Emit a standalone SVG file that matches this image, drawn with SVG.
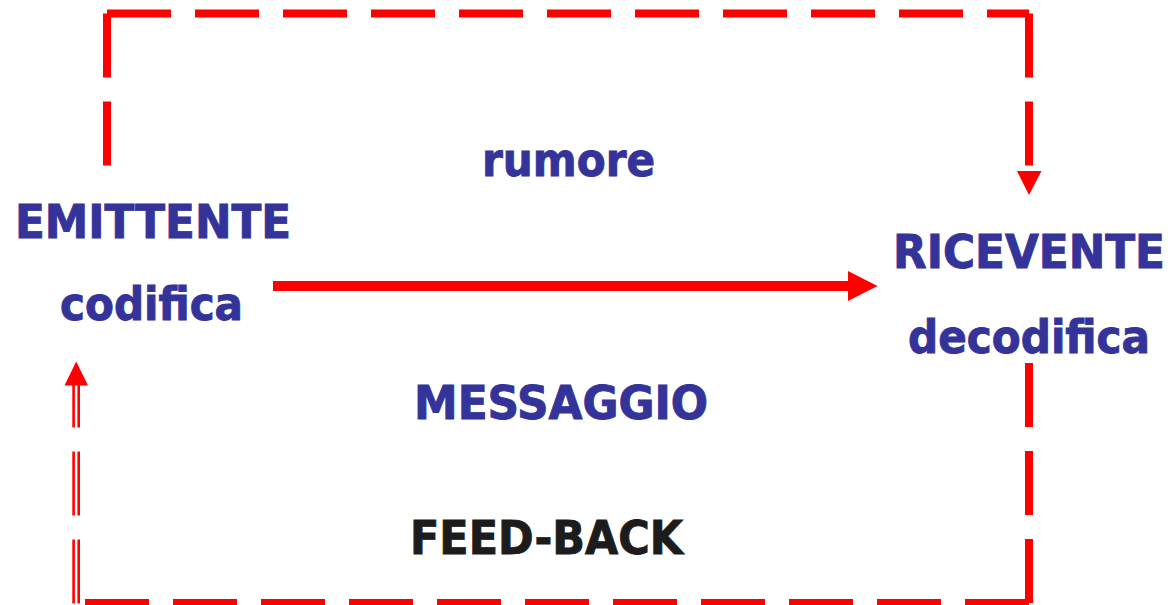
<svg xmlns="http://www.w3.org/2000/svg" width="1171" height="605" viewBox="0 0 1171 605">
  <style>
    .t { font-family: "DejaVu Sans Condensed", "DejaVu Sans", Verdana, sans-serif; font-stretch: condensed; font-weight: bold; font-size: 47px; fill: #333399; stroke: #333399; stroke-width: 0.9; }
    .k { fill: #1c1c1c; stroke: #1c1c1c; }
    .d { stroke: #ff0000; stroke-width: 8; fill: none; stroke-dasharray: 64 24; stroke-linecap: butt; }
    .dd { stroke: #ff0000; stroke-width: 2.6; fill: none; stroke-dasharray: 64 24; }
  </style>
  <rect width="1171" height="605" fill="#ffffff"/>
  <g id="connectors">
    <line class="d" x1="107" y1="13.5" x2="107" y2="165.5"/>
    <line class="d" x1="107" y1="13.5" x2="1029" y2="13.5"/>
    <line class="d" x1="1029" y1="13.5" x2="1029" y2="165.5"/>
    <polygon points="1017,171 1041.5,171 1029,195" fill="#ff0000"/>
    <line x1="273" y1="286" x2="850" y2="286" stroke="#ff0000" stroke-width="10"/>
    <polygon points="848,271 877.5,286 848,301" fill="#ff0000"/>
    <line class="d" x1="1029" y1="603" x2="1029" y2="361"/>
    <line class="d" x1="1029" y1="603" x2="85" y2="603"/>
    <line class="dd" x1="73.6" y1="603.5" x2="73.6" y2="385"/>
    <line class="dd" x1="78.7" y1="603.5" x2="78.7" y2="385"/>
    <polygon points="64.5,385.5 88,385.5 76.2,361.5" fill="#ff0000"/>
  </g>
  <g id="emittente">
    <text class="t" x="15" y="237.7" textLength="276" lengthAdjust="spacingAndGlyphs">EMITTENTE</text>
    <text class="t" x="60" y="320" textLength="183" lengthAdjust="spacingAndGlyphs">codifica</text>
  </g>
  <g id="ricevente">
    <text class="t" x="893" y="267.7" textLength="272" lengthAdjust="spacingAndGlyphs">RICEVENTE</text>
    <text class="t" x="908" y="353.3" textLength="242" lengthAdjust="spacingAndGlyphs">decodifica</text>
  </g>
  <g id="rumore">
    <text class="t" x="482" y="176" textLength="173" lengthAdjust="spacingAndGlyphs">rumore</text>
  </g>
  <g id="messaggio">
    <text class="t" x="414" y="419" textLength="294" lengthAdjust="spacingAndGlyphs">MESSAGGIO</text>
  </g>
  <g id="feedback">
    <text class="t k" x="410" y="554.3" textLength="273" lengthAdjust="spacingAndGlyphs">FEED-BACK</text>
  </g>
</svg>
